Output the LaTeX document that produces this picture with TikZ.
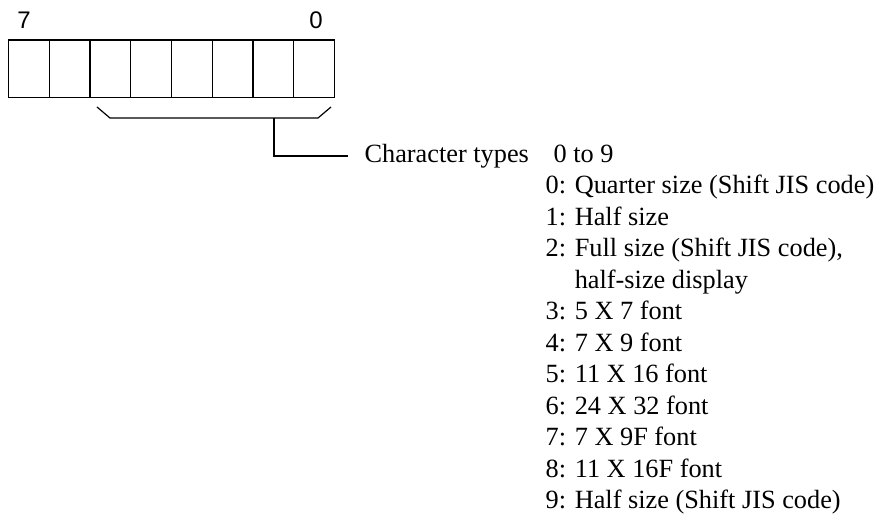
\documentclass[tikz,border=0pt]{standalone}
\usepackage{fontspec}
\setmainfont{Liberation Serif}
\newfontfamily\labsans{Liberation Sans}
\begin{document}
\begin{tikzpicture}[x=1pt,y=-1pt,
  line width=1.2pt,
  cell/.style={draw,minimum width=40.75pt,minimum height=57.5pt,inner sep=0pt,outer sep=0pt,anchor=north west},
  bitlab/.style={font=\labsans\fontsize{24}{28}\selectfont,inner sep=0pt},
  txt/.style={font=\fontsize{26.3}{31}\selectfont,inner sep=0pt,anchor=base west}]
\useasboundingbox (0,0) rectangle (882,522);
\foreach \i in {0,...,7}{
  \node[cell] (c\i) at ({8.5+40.75*\i},40) {};
}
\node[bitlab,anchor=base] (b7) at (24,28) {7};
\node[bitlab,anchor=base] (b0) at (316,28) {0};
\coordinate (bl) at (97,107);
\coordinate (blc) at (110,118);
\coordinate (brc) at (318,118);
\coordinate (br) at (331,107);
\coordinate (stemtop) at (274,118);
\coordinate (stembot) at (274,156);
\coordinate (lineend) at (348,156);
\draw (bl) -- (blc) -- (brc) -- (br);
\draw (stemtop) -- (stembot) -- (lineend);
\node[txt] (ct) at (364,162) {Character types};
\node[txt] (rng) at (553,162) {0 to 9};
\node[txt] (l0) at (545,193.5) {0: Quarter size (Shift JIS code)};
\node[txt] (l1) at (545,225) {1: Half size};
\node[txt] (l2) at (545,256.5) {2: Full size (Shift JIS code),};
\node[txt] (l2b) at (545,288) {\phantom{2: }half-size display};
\node[txt] (l3) at (545,319.5) {3: 5 X 7 font};
\node[txt] (l4) at (545,351) {4: 7 X 9 font};
\node[txt] (l5) at (545,382.5) {5: 11 X 16 font};
\node[txt] (l6) at (545,414) {6: 24 X 32 font};
\node[txt] (l7) at (545,445.5) {7: 7 X 9F font};
\node[txt] (l8) at (545,477) {8: 11 X 16F font};
\node[txt] (l9) at (545,508.5) {9: Half size (Shift JIS code)};
\end{tikzpicture}
\end{document}
